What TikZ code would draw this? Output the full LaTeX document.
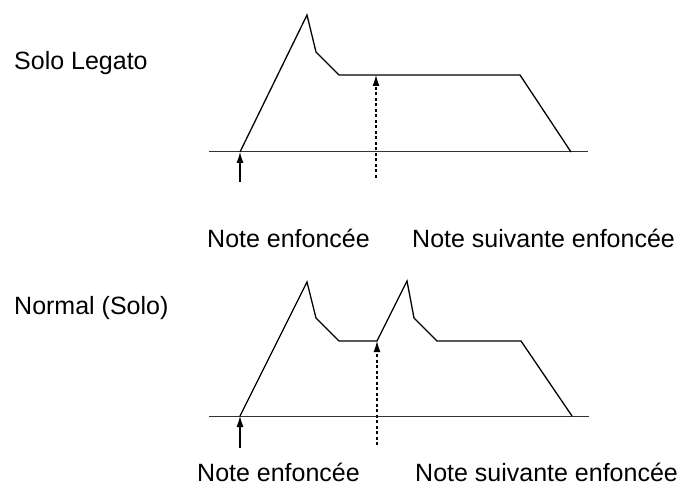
\documentclass[tikz,border=0pt]{standalone}
\usepackage{fontspec}
\setmainfont{Liberation Sans}
\usetikzlibrary{arrows.meta}

\begin{document}
\begin{tikzpicture}[x=1pt,y=-1pt,font=\fontsize{25}{30}\selectfont,
    lbl/.style={anchor=base west,inner sep=0pt},
    env/.style={line width=1.3pt,line join=miter},
    axis/.style={line width=1pt,black!80},
    press/.style={-{Latex[length=11pt,width=7pt]},line width=1.2pt},
    nextkey/.style={press,dash pattern=on 3pt off 2.5pt}]
  \useasboundingbox (0,0) rectangle (685,486);

  % Solo Legato
  \node[lbl] (legato) at (14,70) {Solo Legato};
  \coordinate (lgL) at (209,152);
  \coordinate (lgR) at (588,152);
  \coordinate (lgOn) at (240,152);
  \coordinate (lgPeak) at (307,15);
  \coordinate (lgKnee) at (316,52);
  \coordinate (lgSus) at (339,75);
  \coordinate (lgRel) at (520,75);
  \coordinate (lgOff) at (571,152);
  \coordinate (lgNext) at (376,75);
  \coordinate (lgTail) at (240,182);
  \coordinate (lgNextTail) at (376,178);
  \draw[axis] (lgL) -- (lgR);
  \draw[env] (lgOn) -- (lgPeak) -- (lgKnee) -- (lgSus) -- (lgRel) -- (lgOff);
  \draw[press] (lgTail) -- (lgOn);
  \draw[nextkey] (lgNextTail) -- (lgNext);
  \node[lbl] (lgPress) at (207,248) {Note enfoncée};
  \node[lbl] (lgPressNext) at (412,248) {Note suivante enfoncée};

  % Normal (Solo)
  \node[lbl] (normal) at (14,314) {Normal (Solo)};
  \coordinate (nmL) at (209,416);
  \coordinate (nmR) at (589,416);
  \coordinate (nmOn) at (240,416);
  \coordinate (nmPeakA) at (307,282);
  \coordinate (nmKneeA) at (316,318);
  \coordinate (nmSusA) at (339,341);
  \coordinate (nmNext) at (377,341);
  \coordinate (nmPeakB) at (407,281);
  \coordinate (nmKneeB) at (414,318);
  \coordinate (nmSusB) at (437,341);
  \coordinate (nmRel) at (521,341);
  \coordinate (nmOff) at (572,416);
  \coordinate (nmTail) at (240,448);
  \coordinate (nmNextTail) at (377,445);
  \draw[axis] (nmL) -- (nmR);
  \draw[env] (nmOn) -- (nmPeakA) -- (nmKneeA) -- (nmSusA) -- (nmNext)
    -- (nmPeakB) -- (nmKneeB) -- (nmSusB) -- (nmRel) -- (nmOff);
  \draw[press] (nmTail) -- (nmOn);
  \draw[nextkey] (nmNextTail) -- (nmNext);
  \node[lbl] (nmPress) at (197,481) {Note enfoncée};
  \node[lbl] (nmPressNext) at (415,481) {Note suivante enfoncée};
\end{tikzpicture}
\end{document}
